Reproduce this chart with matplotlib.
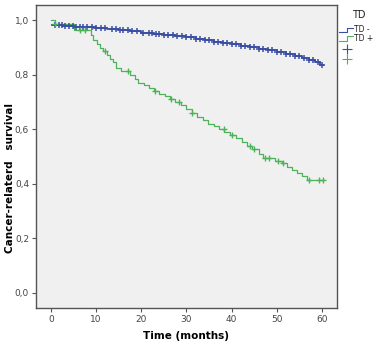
import numpy as np
import matplotlib
matplotlib.use('Agg')
import matplotlib.pyplot as plt
from matplotlib.lines import Line2D
import matplotlib.ticker as ticker

# TD - (blue) step curve
t_neg = [0.3, 2.5, 5.0, 7.5, 10.0, 12.5, 15.0, 17.5, 20.0, 22.5, 25.0, 27.5, 30.0, 32.0,
         34.0, 36.0, 38.0, 40.0, 42.0, 44.0, 46.0, 48.0, 50.0, 52.0, 54.0, 55.5, 57.0,
         58.5, 59.5]
s_neg = [0.982, 0.979, 0.976, 0.973, 0.970, 0.966, 0.962, 0.958, 0.954, 0.950, 0.946,
         0.941, 0.936, 0.931, 0.926, 0.921, 0.916, 0.911, 0.906, 0.901, 0.895, 0.889,
         0.883, 0.876, 0.869, 0.862, 0.854, 0.845, 0.835]
cens_neg = [1.0, 1.7, 2.4, 3.2, 4.0, 4.8, 5.6, 6.4, 7.2, 8.0, 9.0, 10.0, 11.0, 12.0,
            13.6, 14.4, 15.2, 16.0, 17.0, 18.0, 19.0, 20.4, 21.6, 22.4, 23.2, 24.0,
            25.0, 26.0, 27.0, 28.0, 29.0, 30.0, 31.0, 32.0, 33.0, 34.0, 35.0, 36.0,
            37.0, 38.0, 39.0, 40.0, 41.0, 42.0, 43.0, 44.0, 45.0, 46.0, 47.0, 48.0,
            49.0, 50.0, 51.0, 52.0, 53.0, 54.0, 55.0, 56.0, 57.0, 58.0, 59.0, 60.0]

# TD + (green) step curve
t_pos = [0, 0.8, 5.0, 8.8, 9.3, 10.2, 10.8, 11.5, 12.3, 13.0, 13.7, 14.4, 15.5, 17.6,
         18.5, 19.3, 20.5, 21.8, 22.8, 24.0, 25.2, 26.3, 27.5, 28.7, 30.0, 31.2, 32.4,
         33.6, 34.8, 36.0, 37.2, 38.4, 39.6, 41.0, 42.2, 43.3, 44.5, 46.0, 47.0, 49.5,
         51.2, 52.3, 53.4, 54.5, 55.6, 56.6]
s_pos = [1.0, 0.985, 0.963, 0.945, 0.927, 0.912, 0.898, 0.885, 0.870, 0.857, 0.845,
         0.825, 0.812, 0.800, 0.785, 0.770, 0.762, 0.750, 0.740, 0.730, 0.722, 0.712,
         0.700, 0.688, 0.675, 0.658, 0.645, 0.633, 0.620, 0.610, 0.600, 0.590, 0.578,
         0.566, 0.553, 0.540, 0.528, 0.510, 0.495, 0.485, 0.475, 0.463, 0.452, 0.440,
         0.428, 0.413]
cens_pos = [1.0, 6.5, 7.5, 12.0, 17.0, 23.0, 26.5, 28.3, 31.2, 38.2, 40.0, 44.0, 45.0,
            47.3, 48.2, 50.3, 51.3, 57.2, 59.3, 60.3]
t_end = 60.3

blue = '#3a4ea3'
green = '#4db35a'


def step_at(times, surv, t):
    i = np.searchsorted(times, t, side='right') - 1
    return surv[max(i, 0)]


fig = plt.figure(figsize=(3.74, 3.44), dpi=100)
ax = fig.add_axes([0.0963, 0.1047, 0.8047, 0.8808])
ax.set_facecolor('#f0f0f0')

ax.step(t_neg + [t_end], s_neg + [s_neg[-1]], where='post', color=blue, lw=1.3)
ax.step(t_pos + [t_end], s_pos + [s_pos[-1]], where='post', color=green, lw=0.9)
ax.plot(cens_neg, [step_at(t_neg, s_neg, c) for c in cens_neg], ls='none',
        marker='+', ms=5, mew=1.1, color=blue)
ax.plot(cens_pos, [step_at(t_pos, s_pos, c) for c in cens_pos], ls='none',
        marker='+', ms=5, mew=1.0, color=green)

ax.set_xlim(-3.3, 63.3)
ax.set_ylim(-0.055, 1.055)
ax.set_xticks([0, 10, 20, 30, 40, 50, 60])
ax.set_yticks([0, 0.2, 0.4, 0.6, 0.8, 1.0])
ax.yaxis.set_major_formatter(ticker.FuncFormatter(lambda v, _: f'{v:.1f}'.replace('.', ',')))
for s in ax.spines.values():
    s.set_color('#555555')
    s.set_linewidth(1.0)
ax.tick_params(direction='out', length=3, width=0.8, color='#555555',
               labelsize=6.5, labelcolor='#444444', pad=2)

ax.set_xlabel('Time (months)', fontsize=7.5, fontweight='bold', labelpad=5)
ax.set_ylabel('Cancer-relaterd   survival', fontsize=7.5, fontweight='bold')
ax.yaxis.set_label_coords(-0.07, 0.43)

# legend drawn by hand, SPSS style
fig.text(0.94, 0.956, 'TD', fontsize=7, color='#222222', va='center')
def step_icon(y, c):
    xs = [0.907, 0.927, 0.927, 0.945]
    ys = [y - 0.007, y - 0.007, y + 0.007, y + 0.007]
    fig.add_artist(Line2D(xs, ys, color=c, lw=0.8, transform=fig.transFigure))
step_icon(0.913, blue)
step_icon(0.887, green)
fig.text(0.947, 0.913, 'TD -', fontsize=5.5, color='#222222', va='center')
fig.text(0.947, 0.887, 'TD +', fontsize=5.5, color='#222222', va='center')
fig.add_artist(Line2D([0.927], [0.858], marker='+', ms=7, mew=0.8, color=blue,
                      transform=fig.transFigure))
fig.add_artist(Line2D([0.927], [0.828], marker='+', ms=7, mew=0.8, color=green,
                      transform=fig.transFigure))

fig.savefig('out.png', dpi=100)
